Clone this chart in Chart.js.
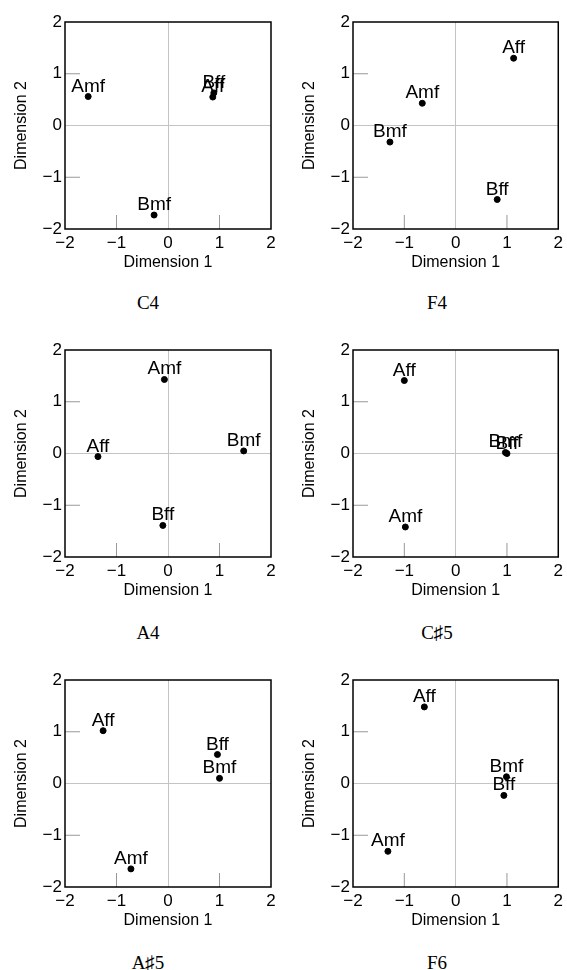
<!DOCTYPE html>
<html>
<head>
<meta charset="utf-8">
<script src="https://cdn.jsdelivr.net/npm/chart.js@4.4.1/dist/chart.umd.min.js"></script>
<style>
  body { margin: 0; background: #fff; width: 567px; height: 970px; position: relative; overflow: hidden; }
  canvas { position: absolute; }
  .cap { position: absolute; width: 100px; text-align: center; font: 19px/23px "Liberation Serif", "DejaVu Serif", serif; color: #000; }
</style>
</head>
<body>
<canvas id="p0" width="283" height="280" style="left:0;top:0"></canvas>
<canvas id="p1" width="279" height="280" style="left:288px;top:0"></canvas>
<canvas id="p2" width="283" height="280" style="left:0;top:328px"></canvas>
<canvas id="p3" width="279" height="280" style="left:288px;top:328px"></canvas>
<canvas id="p4" width="283" height="280" style="left:0;top:658px"></canvas>
<canvas id="p5" width="279" height="280" style="left:288px;top:658px"></canvas>
<script>
// point order in every panel
const pointNames = ['Amf', 'Aff', 'Bmf', 'Bff'];
const captions = ['C4', 'F4', 'A4', 'C\u266F5', 'A\u266F5', 'F6'];
const axisTicks = [-2, -1, 0, 1, 2];

// dimension 1 / dimension 2 for each note
const c4Dim1 = [-1.55, 0.87, -0.27, 0.89];
const c4Dim2 = [0.56, 0.55, -1.73, 0.63];
const f4Dim1 = [-0.65, 1.13, -1.28, 0.81];
const f4Dim2 = [0.43, 1.30, -0.32, -1.43];
const a4Dim1 = [-0.07, -1.36, 1.47, -0.10];
const a4Dim2 = [1.43, -0.06, 0.05, -1.39];
const cs5Dim1 = [-0.98, -1.00, 0.97, 1.00];
const cs5Dim2 = [-1.42, 1.41, 0.02, 0.00];
const as5Dim1 = [-0.72, -1.26, 1.00, 0.96];
const as5Dim2 = [-1.65, 1.02, 0.10, 0.56];
const f6Dim1 = [-1.32, -0.61, 0.99, 0.94];
const f6Dim2 = [-1.31, 1.48, 0.13, -0.23];

const panels = [
  [c4Dim1, c4Dim2], [f4Dim1, f4Dim2], [a4Dim1, a4Dim2],
  [cs5Dim1, cs5Dim2], [as5Dim1, as5Dim2], [f6Dim1, f6Dim2]
];

const sans = 'Liberation Sans, Arial, sans-serif';

// frame, inner tick marks and point names
const framePlugin = {
  id: 'frame',
  afterDatasetsDraw(chart) {
    const ctx = chart.ctx;
    const a = chart.chartArea;
    const sx = chart.scales.x, sy = chart.scales.y;
    ctx.save();
    ctx.strokeStyle = '#999';
    ctx.lineWidth = 1;
    [-1, 1].forEach(v => {
      const px = sx.getPixelForValue(v);
      ctx.beginPath(); ctx.moveTo(px, a.bottom); ctx.lineTo(px, a.bottom - 14); ctx.stroke();
      const py = sy.getPixelForValue(v);
      ctx.beginPath(); ctx.moveTo(a.left, py); ctx.lineTo(a.left + 15, py); ctx.stroke();
    });
    ctx.strokeStyle = '#000';
    ctx.lineWidth = 1.5;
    ctx.strokeRect(a.left, a.top, a.right - a.left, a.bottom - a.top);

    ctx.fillStyle = '#000';
    ctx.font = '19px ' + sans;
    ctx.textAlign = 'center';
    ctx.textBaseline = 'alphabetic';
    const meta = chart.getDatasetMeta(0);
    meta.data.forEach((el, i) => {
      ctx.fillText(pointNames[i], el.x, el.y - 5);
    });
    ctx.restore();
  }
};

const fmt = v => (v < 0 ? '\u2212' + Math.abs(v) : String(v));
const zeroGrid = c => (c.tick && c.tick.value === 0 ? '#c4c4c4' : 'rgba(0,0,0,0)');

// caption centres under each panel
const capX = [148, 437];
const capY = [302, 632, 962];

panels.forEach((p, k) => {
  const [d1, d2] = p;
  new Chart(document.getElementById('p' + k), {
    type: 'scatter',
    data: {
      datasets: [{
        data: d1.map((x, i) => ({ x: x, y: d2[i] })),
        backgroundColor: '#000',
        borderColor: '#000',
        pointRadius: 3,
        pointHoverRadius: 3
      }]
    },
    options: {
      responsive: false,
      devicePixelRatio: 1,
      animation: false,
      events: [],
      layout: { padding: { top: 22, right: k % 2 ? 8 : 12, left: 0, bottom: 1 } },
      plugins: {
        legend: { display: false },
        tooltip: { enabled: false }
      },
      scales: {
        x: {
          type: 'linear',
          min: -2, max: 2,
          afterBuildTicks: s => { s.ticks = axisTicks.map(v => ({ value: v })); },
          afterFit: s => { s.height = 50; },
          ticks: { callback: fmt, color: '#000', padding: 4, maxRotation: 0, font: { family: sans, size: 17 } },
          grid: { drawTicks: false, color: zeroGrid },
          border: { display: false },
          title: { display: true, text: 'Dimension 1', color: '#000', font: { family: sans, size: 16 }, padding: { top: 0, bottom: 6.4 } }
        },
        y: {
          type: 'linear',
          min: -2, max: 2,
          afterBuildTicks: s => { s.ticks = axisTicks.map(v => ({ value: v })); },
          afterFit: s => { s.width = 65; },
          ticks: { callback: fmt, color: '#000', padding: 3, font: { family: sans, size: 17 } },
          grid: { drawTicks: false, color: zeroGrid },
          border: { display: false },
          title: { display: true, text: 'Dimension 2', color: '#000', font: { family: sans, size: 16 }, padding: { top: 12.4, bottom: 0 } }
        }
      }
    },
    plugins: [framePlugin]
  });

  const cap = document.createElement('div');
  cap.className = 'cap';
  cap.textContent = captions[k];
  cap.style.left = (capX[k % 2] - 50) + 'px';
  cap.style.top = (capY[Math.floor(k / 2)] - 11.5) + 'px';
  document.body.appendChild(cap);
});
</script>
</body>
</html>
